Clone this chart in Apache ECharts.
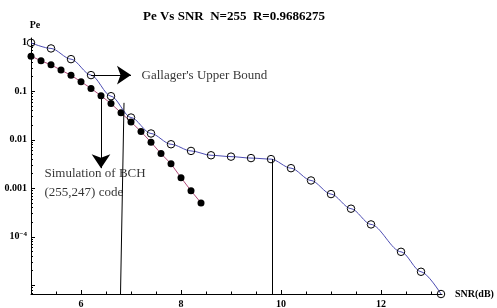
<!DOCTYPE html>
<html>
<head>
<meta charset="utf-8">
<script src="https://cdn.jsdelivr.net/npm/echarts@6/dist/echarts.min.js"></script>
<style>
  html, body { margin: 0; padding: 0; background: #fff; }
  #main { width: 497px; height: 308px; }
</style>
</head>
<body>
<div id="main"></div>
<script>
// Gallager's upper bound (open circles)
var snrGallager = [5, 5.4, 5.8, 6.2, 6.6, 7.0, 7.4, 7.8, 8.2, 8.6, 9.0, 9.4, 9.8, 10.2, 10.6, 11.0, 11.4, 11.8, 12.4, 12.8, 13.2];
var peGallager = [1.0, 0.767, 0.461, 0.216, 0.0794, 0.0288, 0.0135, 0.0081, 0.0059, 0.0048, 0.0045, 0.0042, 0.0040,
    0.0026, 0.00145, 0.00076, 0.00038, 0.00018, 0.000049, 0.000019, 0.0000066];

// BCH(255,247) simulation (filled dots)
var snrBch = [5.0, 5.2, 5.4, 5.6, 5.8, 6.0, 6.2, 6.4, 6.6, 6.8, 7.0, 7.2, 7.4, 7.6, 7.8, 8.0, 8.2, 8.4];
var peBch = [0.532, 0.427, 0.352, 0.274, 0.214, 0.158, 0.115, 0.081, 0.056, 0.036, 0.0234, 0.0148, 0.0089,
    0.0052, 0.0032, 0.00166, 0.00089, 0.0005];

// ticks
var xMajorTicks = [6, 8, 10, 12];
var xMinorTicks = [5.5, 6.5, 7, 7.5, 8.5, 9, 9.5, 10.5, 11, 11.5, 12.5, 13];
var yTickExp = [-5, -4, -3, -2, -1, 0];
var yLabelExp = [-4, -3, -2, -1, 0];
var yLabelText = { '0': '1', '-1': '0.1', '-2': '0.01', '-3': '0.001', '-4': '10{s|\u22124}' };

// annotations: [snr, Pe]; vertical guides run down to the x axis
var guideTops = [[6.86, 0.0579], [9.83, 0.0040]];
var guideFootSnr = [6.79, 9.83];
var arrowLines = [
    [[6.2, 0.216], [7.0, 0.216]],
    [[6.4, 0.081], [6.4, 0.0026]]
];
var noteNames = ["Gallager's Upper Bound", 'Simulation of BCH\n(255,247) code'];
var notePos = [[7.2, 0.216], [5.26, 0.00129]];

var yMin = -5.18, yMax = 0.1, xMin = 5, xMax = 13.22;

function lg(v) { return Math.log10(v); }

var yMinorTicks = [];
for (var n = -6; n < 0; n++) {
    for (var k = 2; k <= 9; k++) {
        var t = n + lg(k);
        if (t > yMin && t < yMax) yMinorTicks.push(t);
    }
}

var serif = 'Liberation Serif';
var axisFont = { fontFamily: serif, fontWeight: 'bold', fontSize: 10, color: '#000' };

var markData = [];
guideTops.forEach(function (p, i) {
    markData.push([
        { coord: [p[0], lg(p[1])], symbol: 'none' },
        { coord: [guideFootSnr[i], yMin], symbol: 'none' }
    ]);
});
arrowLines.forEach(function (l) {
    markData.push([
        { coord: [l[0][0], lg(l[0][1])], symbol: 'none' },
        { coord: [l[1][0], lg(l[1][1])], symbol: 'arrow', symbolSize: 14 }
    ]);
});

var myChart = echarts.init(document.getElementById('main'));

var option = {
    animation: false,
    backgroundColor: '#fff',
    title: {
        text: 'Pe Vs SNR  N=255  R=0.9686275',
        left: 138,
        top: 5,
        textStyle: { fontFamily: serif, fontWeight: 'bold', fontSize: 13, color: '#000' }
    },
    grid: { left: 31, right: 55, top: 38, bottom: 14, outerBoundsMode: 'none' },
    xAxis: [{
        type: 'value',
        min: xMin,
        max: xMax,
        name: 'SNR(dB)',
        nameLocation: 'end',
        nameGap: 13,
        nameTextStyle: axisFont,
        axisLine: { onZero: false, lineStyle: { color: '#000', width: 1 } },
        axisTick: { inside: true, length: 4, customValues: xMajorTicks, lineStyle: { color: '#000' } },
        axisLabel: Object.assign({ customValues: xMajorTicks, margin: 5 }, axisFont),
        splitLine: { show: false }
    }, {
        type: 'value',
        position: 'bottom',
        min: xMin,
        max: xMax,
        axisLine: { show: false, onZero: false },
        axisTick: { inside: true, length: 2.5, customValues: xMinorTicks, lineStyle: { color: '#000' } },
        axisLabel: { show: false },
        splitLine: { show: false }
    }],
    yAxis: [{
        type: 'value',
        min: yMin,
        max: yMax,
        name: 'Pe',
        nameLocation: 'end',
        nameGap: 8,
        nameTextStyle: Object.assign({ padding: [0, 0, 0, 8] }, axisFont),
        axisLine: { onZero: false, lineStyle: { color: '#000', width: 1 } },
        axisTick: { inside: true, length: 4, customValues: yTickExp, lineStyle: { color: '#000' } },
        axisLabel: Object.assign({
            customValues: yLabelExp,
            margin: 4,
            formatter: function (v) { return yLabelText[String(Math.round(v))]; },
            rich: {
                s: { fontFamily: serif, fontWeight: 'bold', fontSize: 7, color: '#000', verticalAlign: 'bottom', padding: [0, 0, 6, 0] }
            }
        }, axisFont),
        splitLine: { show: false }
    }, {
        type: 'value',
        position: 'left',
        min: yMin,
        max: yMax,
        axisLine: { show: false, onZero: false },
        axisTick: { inside: true, length: 2, customValues: yMinorTicks, lineStyle: { color: '#000' } },
        axisLabel: { show: false },
        splitLine: { show: false }
    }],
    series: [{
        name: 'Gallager',
        type: 'line',
        smooth: 0.3,
        smoothMonotone: 'x',
        data: snrGallager.map(function (x, i) { return [x, lg(peGallager[i])]; }),
        lineStyle: { color: '#4c4cb2', width: 1 },
        symbol: 'circle',
        symbolSize: 7.5,
        itemStyle: { color: 'rgba(0,0,0,0)', borderColor: '#000', borderWidth: 1 },
        z: 3
    }, {
        name: 'BCH',
        type: 'line',
        data: snrBch.map(function (x, i) { return [x, lg(peBch[i])]; }),
        lineStyle: { color: '#b04a7a', width: 1 },
        symbol: 'circle',
        symbolSize: 7,
        itemStyle: { color: '#000' },
        z: 2
    }, {
        name: 'notes',
        type: 'scatter',
        silent: true,
        clip: false,
        symbolSize: 1,
        itemStyle: { color: 'rgba(0,0,0,0)' },
        data: noteNames.map(function (nm, i) { return { name: nm, value: [notePos[i][0], lg(notePos[i][1])] }; }),
        label: {
            show: true,
            position: 'right',
            distance: 0,
            formatter: '{b}',
            fontFamily: serif,
            fontSize: 13,
            lineHeight: 19,
            color: '#000'
        },
        markLine: {
            silent: true,
            symbol: 'none',
            label: { show: false },
            lineStyle: { color: '#000', width: 1, type: 'solid' },
            data: markData
        },
        z: 4
    }]
};

myChart.setOption(option);
</script>
</body>
</html>
